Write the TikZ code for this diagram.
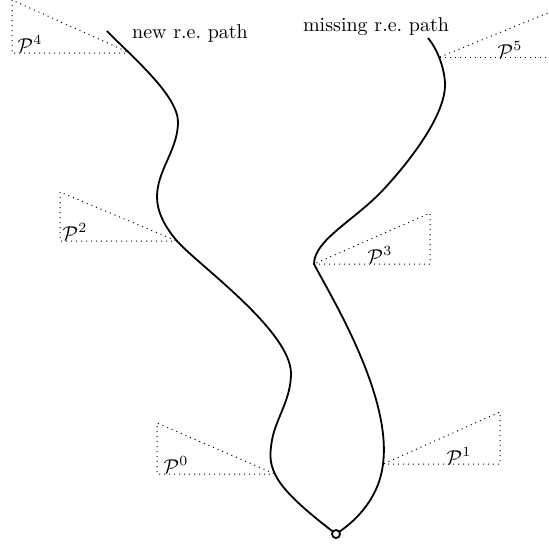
\documentclass[tikz,border=0pt]{standalone}
\usepackage{amsmath}
\begin{document}
\begin{tikzpicture}[x=0.5pt,y=-0.5pt,
  pathline/.style={line width=0.9pt},
  cone/.style={dotted, line width=0.5pt},
  lbl/.style={inner sep=0pt, font=\normalsize},
  rootnode/.style={circle, draw, line width=0.9pt, fill=white, inner sep=0pt, minimum size=4pt}]
\useasboundingbox (0,0) rectangle (549,546);
% corner coordinates on the paths
\coordinate (c0) at (275,474);
\coordinate (c1) at (383,464);
\coordinate (c2) at (177,241);
\coordinate (c3) at (314,264);
\coordinate (c4) at (130,53);
\coordinate (c5) at (440,57);
\coordinate (lend) at (107,31);
\coordinate (rend) at (428,38);
\coordinate (r) at (336,534);
% left path
\draw[pathline] (r) .. controls (310,514) and (283,492) .. (c0)
  .. controls (269,462) and (270,452) .. (272,440)
  .. controls (276,418) and (291,400) .. (291,373)
  .. controls (290,330) and (197,264) .. (c2)
  .. controls (165,227) and (157,212) .. (157,197)
  .. controls (157,170) and (178,150) .. (178,122)
  .. controls (178,95) and (130,55) .. (lend);
% right path
\draw[pathline] (r) .. controls (365,515) and (380,490) .. (c1)
  .. controls (392,395) and (330,295) .. (c3)
  .. controls (314,240) and (355,220) .. (383,190)
  .. controls (411,160) and (445,115) .. (445,85)
  .. controls (445,70) and (438,50) .. (rend);
\node[rootnode] (root) at (r) {};
% cones
\draw[cone] (c0) -- (157,474) -- (157,423) -- cycle;
\draw[cone] (c1) -- (500,464) -- (500,412) -- cycle;
\draw[cone] (c2) -- (60,241) -- (60,192) -- cycle;
\draw[cone] (c3) -- (430,264) -- (430,213) -- cycle;
\draw[cone] (c4) -- (12,53) -- (12,0) -- cycle;
\draw[cone] (c5) -- (560,57);
\draw[cone] (c5) -- (560,8);
% labels
\node[lbl] (p0) at (176,465) {$\mathcal{P}^0$};
\node[lbl] (p1) at (459,456) {$\mathcal{P}^1$};
\node[lbl] (p2) at (75,232) {$\mathcal{P}^2$};
\node[lbl] (p3) at (380,255) {$\mathcal{P}^3$};
\node[lbl] (p4) at (30,44) {$\mathcal{P}^4$};
\node[lbl] (p5) at (510,50) {$\mathcal{P}^5$};
\node[lbl] (newp) at (190,33) {new r.e.\ path};
\node[lbl] (missp) at (376,27) {missing r.e.\ path};
\end{tikzpicture}
\end{document}
